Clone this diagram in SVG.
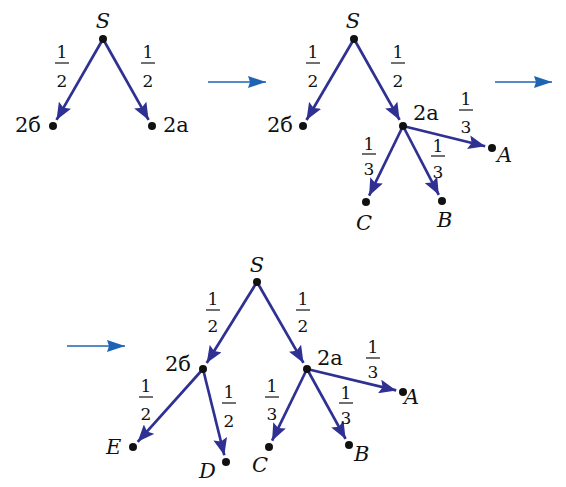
<svg xmlns="http://www.w3.org/2000/svg" width="566" height="487" viewBox="0 0 566 487" font-family="'DejaVu Serif', 'Liberation Serif', serif">
<defs>
<marker id="ah" markerUnits="userSpaceOnUse" markerWidth="18" markerHeight="14" refX="17" refY="7" orient="auto" viewBox="0 0 18 14">
<path d="M0,0 L17,7 L0,14 L3,7 z" fill="#2e3192"/>
</marker>
<marker id="bh" markerUnits="userSpaceOnUse" markerWidth="18" markerHeight="12" refX="18" refY="6" orient="auto" viewBox="0 0 18 12">
<path d="M0,0 L18,6 L0,12 L2,6 z" fill="#1f64b4"/>
</marker>
</defs>
<style>
.e{stroke:#2e3192;stroke-width:2.7;fill:none;marker-end:url(#ah)}
.b{stroke:#1f64b4;stroke-width:1.6;fill:none;marker-end:url(#bh)}
.d{fill:#111}
.bar{stroke:#111;stroke-width:1.2}
</style>
<rect width="566" height="487" fill="#fff"/>
<g id="connectors">
<path class="b" d="M208,82 L266,82"/>
<path class="b" d="M495,82 L552,82"/>
<path class="b" d="M67,346 L125,346"/>
<path class="e" d="M103,39 L56.5,119.9"/>
<path class="e" d="M103,39 L148.6,119.9"/>
<path class="e" d="M354,39 L306.5,120"/>
<path class="e" d="M354,39 L399.6,119.9"/>
<path class="e" d="M403,126 L485.2,146.3"/>
<path class="e" d="M403,126 L369.1,195.7"/>
<path class="e" d="M403,126 L438.8,194.8"/>
<path class="e" d="M257,282 L206.7,363"/>
<path class="e" d="M257,282 L303.5,362.9"/>
<path class="e" d="M307,369 L396.2,390.4"/>
<path class="e" d="M307,369 L272.1,440.7"/>
<path class="e" d="M307,369 L345.6,438.9"/>
<path class="e" d="M203,369 L137.7,441.8"/>
<path class="e" d="M203,369 L224.3,455.2"/>
</g>
<g id="fractions" font-size="17" text-anchor="middle" fill="#111">
<g><text x="62" y="58">1</text><line class="bar" x1="55" y1="63" x2="69" y2="63"/><text x="62" y="87">2</text></g>
<g><text x="148" y="58">1</text><line class="bar" x1="141" y1="63" x2="155" y2="63"/><text x="148" y="87">2</text></g>
<g><text x="313" y="58">1</text><line class="bar" x1="306" y1="63" x2="320" y2="63"/><text x="313" y="87">2</text></g>
<g><text x="398" y="58">1</text><line class="bar" x1="391" y1="63" x2="405" y2="63"/><text x="398" y="87">2</text></g>
<g><text x="466" y="105">1</text><line class="bar" x1="459" y1="110" x2="473" y2="110"/><text x="466" y="133">3</text></g>
<g><text x="369" y="150">1</text><line class="bar" x1="362" y1="154" x2="376" y2="154"/><text x="369" y="175">3</text></g>
<g><text x="438" y="152">1</text><line class="bar" x1="431" y1="156" x2="445" y2="156"/><text x="438" y="178">3</text></g>
<g><text x="213" y="305">1</text><line class="bar" x1="206" y1="310" x2="220" y2="310"/><text x="213" y="332">2</text></g>
<g><text x="303" y="305">1</text><line class="bar" x1="296" y1="310" x2="310" y2="310"/><text x="303" y="332">2</text></g>
<g><text x="373" y="353">1</text><line class="bar" x1="366" y1="358" x2="380" y2="358"/><text x="373" y="378">3</text></g>
<g><text x="146" y="392">1</text><line class="bar" x1="139" y1="397" x2="153" y2="397"/><text x="146" y="420">2</text></g>
<g><text x="229" y="398">1</text><line class="bar" x1="222" y1="403" x2="236" y2="403"/><text x="229" y="427">2</text></g>
<g><text x="272" y="392">1</text><line class="bar" x1="265" y1="397" x2="279" y2="397"/><text x="272" y="420">3</text></g>
<g><text x="346" y="399">1</text><line class="bar" x1="339" y1="403" x2="353" y2="403"/><text x="346" y="424">3</text></g>
</g>
<g id="nodes" font-size="21" fill="#111">
<g id="t1-S"><circle class="d" cx="103" cy="39" r="4"/><text font-style="italic" x="103" y="28" text-anchor="middle">S</text></g>
<g id="t1-2b"><circle class="d" cx="53" cy="126" r="4"/><text x="15" y="132">2б</text></g>
<g id="t1-2a"><circle class="d" cx="152" cy="126" r="4"/><text x="163" y="132">2a</text></g>
<g id="t2-S"><circle class="d" cx="354" cy="39" r="4"/><text font-style="italic" x="353" y="28" text-anchor="middle">S</text></g>
<g id="t2-2b"><circle class="d" cx="303" cy="126" r="4"/><text x="267" y="132">2б</text></g>
<g id="t2-2a"><circle class="d" cx="403" cy="126" r="4"/><text x="413" y="120">2a</text></g>
<g id="t2-A"><circle class="d" cx="492" cy="148" r="4"/><text font-style="italic" x="497" y="162">A</text></g>
<g id="t2-C"><circle class="d" cx="366" cy="202" r="4"/><text font-style="italic" x="364" y="230" text-anchor="middle">C</text></g>
<g id="t2-B"><circle class="d" cx="442" cy="201" r="4"/><text font-style="italic" x="437" y="227">B</text></g>
<g id="t3-S"><circle class="d" cx="257" cy="282" r="4"/><text font-style="italic" x="257" y="272" text-anchor="middle">S</text></g>
<g id="t3-2b"><circle class="d" cx="203" cy="369" r="4"/><text x="165" y="371">2б</text></g>
<g id="t3-2a"><circle class="d" cx="307" cy="369" r="4"/><text x="317" y="365">2a</text></g>
<g id="t3-A"><circle class="d" cx="403" cy="392" r="4"/><text font-style="italic" x="404" y="404">A</text></g>
<g id="t3-B"><circle class="d" cx="349" cy="445" r="4"/><text font-style="italic" x="354" y="461">B</text></g>
<g id="t3-C"><circle class="d" cx="269" cy="447" r="4"/><text font-style="italic" x="260" y="472" text-anchor="middle">C</text></g>
<g id="t3-E"><circle class="d" cx="133" cy="447" r="4"/><text font-style="italic" x="106" y="454">E</text></g>
<g id="t3-D"><circle class="d" cx="226" cy="462" r="4"/><text font-style="italic" x="199" y="478">D</text></g>
</g>
</svg>
